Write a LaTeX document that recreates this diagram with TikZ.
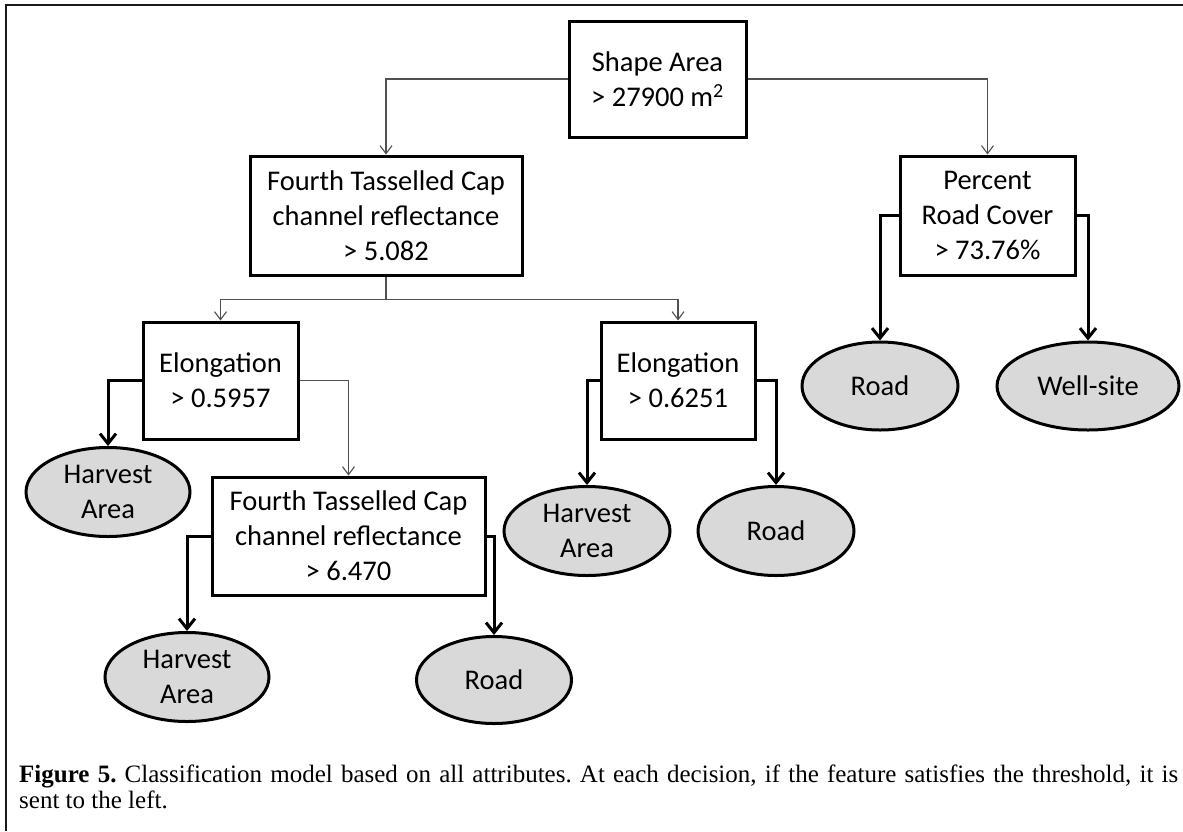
\documentclass[tikz,border=0pt]{standalone}
\usepackage{fontspec}
\setmainfont{Carlito}
\newfontfamily\capfont{Liberation Serif}
\usetikzlibrary{arrows.meta,shapes.geometric}
\definecolor{leafgray}{HTML}{D9D9D9}
\definecolor{thinline}{HTML}{505050}
\definecolor{framecol}{HTML}{1A1A1A}
\begin{document}
\begin{tikzpicture}[x=1pt,y=-1pt,
  decision/.style={rectangle, draw=black, line width=3pt, fill=white,
    align=center, inner sep=0pt, font=\fontsize{28.5}{35}\selectfont},
  leaf/.style={ellipse, draw=black, line width=3pt, fill=leafgray,
    align=center, inner sep=-14pt, font=\fontsize{28.5}{35}\selectfont},
  thinarrow/.style={draw=thinline, line width=1.1pt,
    -{Straight Barb[length=8pt,width=12pt]}},
  thickarrow/.style={draw=black, line width=3pt,
    -{Straight Barb[length=10pt,width=16pt]}},
  caption/.style={anchor=base west, inner sep=0pt,
    font=\capfont\fontsize{25}{28}\selectfont\frenchspacing}
]
\useasboundingbox (0,0) rectangle (1183,831);
% frame
\draw[framecol, line width=2.5pt] (5,5) -- (1183,5);
\draw[framecol, line width=2.2pt] (6,4) -- (6,831);

% decision boxes
\node[decision, minimum width=177pt, minimum height=116pt] (sa) at (657.5,79)
  {Shape Area\\> 27900 m\textsuperscript{2}};
\node[decision, minimum width=272pt, minimum height=119pt] (f1) at (386,215.5)
  {Fourth Tasselled Cap\\channel reflectance\\> 5.082};
\node[decision, minimum width=175pt, minimum height=119pt] (prc) at (987.5,215.5)
  {Percent\\Road Cover\\> 73.76\%};
\node[decision, minimum width=155pt, minimum height=117pt] (e1) at (220.5,380.5)
  {Elongation\\> 0.5957};
\node[decision, minimum width=154pt, minimum height=117pt] (e2) at (678,380.5)
  {Elongation\\> 0.6251};
\node[decision, minimum width=273pt, minimum height=118pt] (f2) at (348.5,536)
  {Fourth Tasselled Cap\\channel reflectance\\> 6.470};

% leaves
\node[leaf, minimum width=156pt, minimum height=88pt] (road1) at (880,386) {Road};
\node[leaf, minimum width=182pt, minimum height=88pt] (well) at (1088,386) {Well-site};
\node[leaf, minimum width=164pt, minimum height=89pt] (ha1) at (108,492) {Harvest\\Area};
\node[leaf, minimum width=164pt, minimum height=89pt] (ha2) at (187,677) {Harvest\\Area};
\node[leaf, minimum width=155pt, minimum height=87pt] (road2) at (494,680) {Road};
\node[leaf, minimum width=166pt, minimum height=89pt] (ha3) at (587,531) {Harvest\\Area};
\node[leaf, minimum width=156pt, minimum height=89pt] (road3) at (776,531) {Road};

% thin decision connectors
\draw[thinarrow] (sa.west) -| (f1.north);
\draw[thinarrow] (sa.east) -| (prc.north);
\draw[thinarrow] (f1.south) -- ++(0,23) -| (e1.north);
\draw[thinarrow] (f1.south) -- ++(0,23) -| (e2.north);
\draw[thinarrow] (e1.east) -| (f2.north);

% thick leaf connectors
\draw[thickarrow] (prc.west) -| (road1.north);
\draw[thickarrow] (prc.east) -| (well.north);
\draw[thickarrow] (e1.west) -| (ha1.north);
\draw[thickarrow] (e2.west) -| (ha3.north);
\draw[thickarrow] (e2.east) -| (road3.north);
\draw[thickarrow] (f2.west) -| (ha2.north);
\draw[thickarrow] (f2.east) -| (road2.north);

% caption
\node[caption] (cap1) at (19,782) {\makebox[1159pt][s]{\textbf{Figure 5.} Classification model based on all attributes. At each decision, if the feature satisfies the threshold, it is}};
\node[caption] (cap2) at (19,808) {sent to the left.};
\end{tikzpicture}
\end{document}
